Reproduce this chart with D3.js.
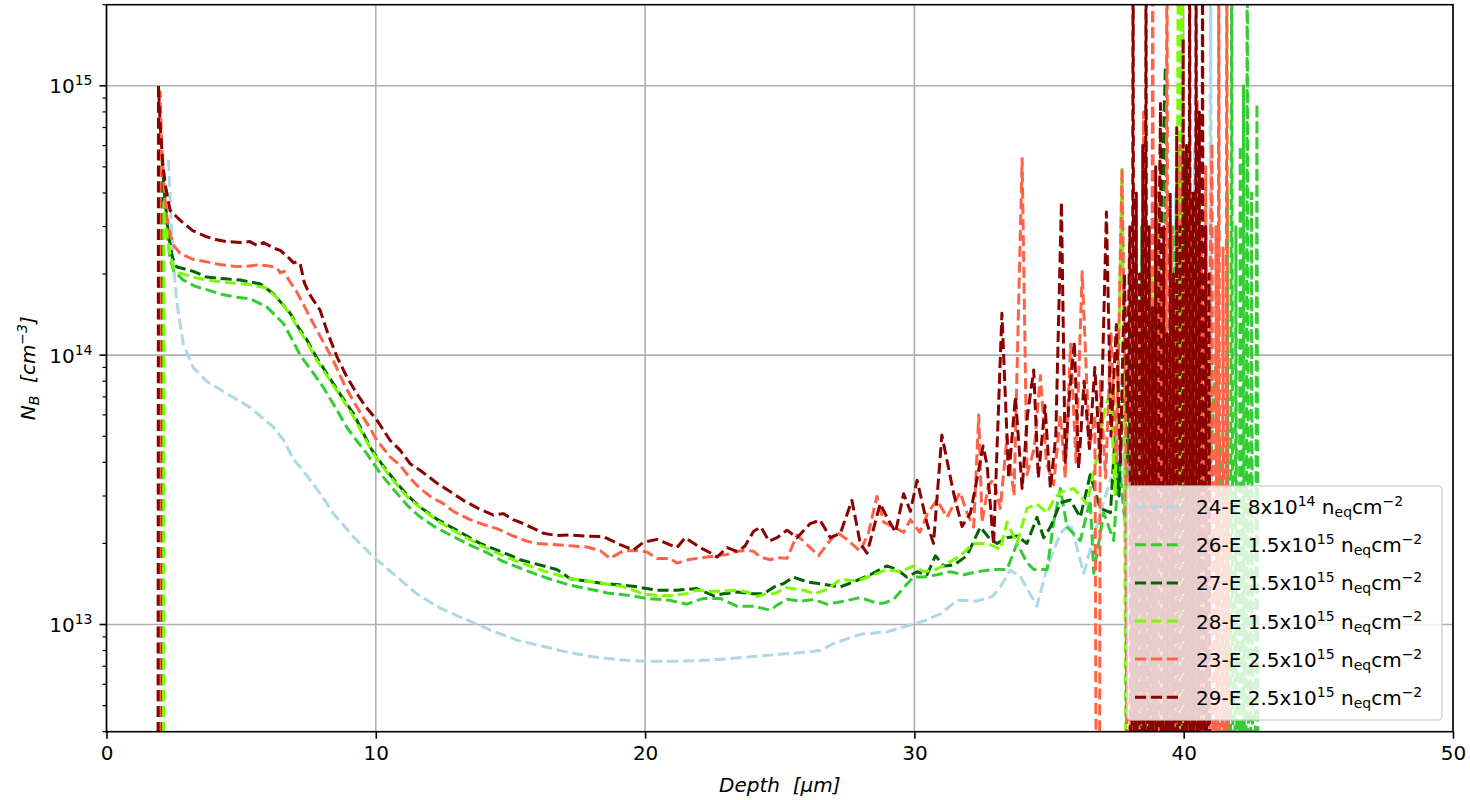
<!DOCTYPE html>
<html><head><meta charset="utf-8">
<script src="https://cdn.jsdelivr.net/npm/d3@7"></script>
<style>
body{margin:0;background:#fff;}
text{font-family:"DejaVu Sans",sans-serif;fill:#000;}
</style>
</head><body>
<svg id="chart" width="1470" height="800"></svg>
<script>
// ---------- data ----------
const xTicks = [0, 10, 20, 30, 40, 50];
const yTickExponents = [13, 14, 15];
const seriesIds = ["24-E", "26-E", "27-E", "28-E", "23-E", "29-E"];
const fluenceMantissa = ["8", "1.5", "1.5", "1.5", "2.5", "2.5"];
const fluenceExponent = ["14", "15", "15", "15", "15", "15"];

// [depth µm, N_B cm^-3]; 1e10 = below the axis (non-positive in source), 5e15 = above the axis
const nb24E = [[2.3,5.3e14],[2.4,3.2e14],[2.48,2.25e14],[2.6,1.6e14],[2.85,1.1e14],[3.22,9.0e13],[3.72,8.0e13],[4.47,7.2e13],[5.33,6.4e13],[6.2,5.4e13],[6.6,4.8e13],[6.94,4.1e13],[7.19,3.85e13],[7.6,3.4e13],[8.0,3.0e13],[8.43,2.58e13],[9.2,2.1e13],[9.97,1.76e13],[10.8,1.5e13],[11.52,1.3e13],[12.4,1.15e13],[13.38,1.04e13],[14.3,9.5e12],[15.24,8.75e12],[16.2,8.3e12],[17.1,7.9e12],[18.0,7.6e12],[19.0,7.4e12],[20.0,7.3e12],[21.0,7.3e12],[22.0,7.35e12],[23.0,7.45e12],[24.0,7.6e12],[25.0,7.75e12],[26.0,7.9e12],[26.5,8.0e12],[27.0,8.5e12],[28.0,9.2e12],[29.0,9.4e12],[29.6,9.8e12],[30.47,1.04e13],[31.0,1.1e13],[31.58,1.23e13],[32.3,1.22e13],[32.9,1.27e13],[33.19,1.38e13],[33.56,1.59e13],[33.93,1.51e13],[34.55,1.17e13],[34.93,1.63e13],[35.42,2.18e13],[35.79,2.37e13],[36.29,1.55e13],[36.9,2.58e13],[37.3,3.5e13],[37.52,3.1e13],[37.7,5.0e13],[37.85,2.5e13],[38.0,8.0e13],[38.2,1e10],[38.35,2.0e14],[38.5,1e10],[38.7,1.5e14],[38.85,1e10],[39.0,3.0e14],[39.15,1e10],[39.35,2.0e14],[39.5,1e10],[39.7,4.0e14],[39.85,1e10],[40.05,3.0e14],[40.2,1e10],[40.4,6.0e14],[40.55,1e10],[40.75,2.0e14],[40.9,1e10],[41.0,5e15],[41.1,1e10]];

const nb26E = [[2.08,1e10],[2.11,4.2e14],[2.2,3.2e14],[2.35,2.3e14],[2.5,2.05e14],[2.85,1.9e14],[3.3,1.8e14],[3.72,1.75e14],[4.3,1.68e14],[4.84,1.64e14],[5.33,1.62e14],[5.95,1.51e14],[6.57,1.31e14],[6.9,1.14e14],[7.19,1.0e14],[7.6,8.8e13],[8.05,7.6e13],[8.5,6.4e13],[8.92,5.4e13],[9.3,4.8e13],[9.67,4.3e13],[10.2,3.6e13],[10.78,3.07e13],[11.2,2.75e13],[11.64,2.51e13],[12.2,2.3e13],[12.88,2.12e13],[13.5,1.97e13],[14.12,1.85e13],[14.7,1.72e13],[15.36,1.62e13],[16.0,1.53e13],[16.6,1.46e13],[17.2,1.4e13],[17.84,1.36e13],[18.6,1.31e13],[19.45,1.28e13],[20.07,1.25e13],[20.9,1.23e13],[21.55,1.19e13],[22.17,1.25e13],[22.79,1.25e13],[23.41,1.17e13],[24.03,1.17e13],[24.65,1.13e13],[24.9,1.18e13],[25.27,1.24e13],[25.76,1.22e13],[26.26,1.24e13],[26.75,1.19e13],[27.37,1.22e13],[27.99,1.26e13],[28.61,1.2e13],[28.86,1.2e13],[29.23,1.24e13],[29.6,1.37e13],[29.97,1.5e13],[30.34,1.5e13],[30.84,1.53e13],[31.33,1.57e13],[31.83,1.53e13],[32.32,1.57e13],[32.94,1.6e13],[33.44,1.6e13],[33.81,2.0e13],[34.18,1.7e13],[34.43,1.6e13],[34.93,1.6e13],[35.17,2.4e13],[35.42,3.2e13],[35.67,2.3e13],[36.16,2.05e13],[36.53,2.9e13],[36.66,1.55e13],[37.03,2.6e13],[37.4,2.05e13],[37.6,4.0e13],[37.8,2.5e13],[38.0,6.0e13],[38.2,3.0e13],[38.4,1.0e14],[38.6,4.0e13],[38.8,1.5e14],[39.0,5.0e13],[39.2,2.0e14],[39.4,6.0e13],[39.6,3.0e14],[39.8,8.0e13],[40.0,2.0e14],[40.2,5.0e13],[40.4,3.0e14],[40.6,6.0e13],[40.8,1.5e14],[41.0,4.0e13],[41.2,1.0e14],[41.4,3.0e13],[41.55,1e10],[41.62,4.0e14],[41.7,1e10],[41.78,5e15],[41.86,1e10],[41.94,3.0e14],[42.02,1e10],[42.1,6.0e14],[42.18,1e10],[42.22,1.0e15],[42.28,1e10],[42.36,5e15],[42.44,1e10],[42.52,4.0e14],[42.6,1e10],[42.72,8.6e14],[42.8,1e10]];

const nb27E = [[2.03,1e10],[2.06,5.4e14],[2.15,4.0e14],[2.3,2.8e14],[2.45,2.3e14],[2.6,2.13e14],[3.2,2.05e14],[3.72,1.95e14],[4.4,1.92e14],[4.96,1.9e14],[5.7,1.84e14],[6.2,1.69e14],[6.5,1.56e14],[6.82,1.43e14],[7.1,1.28e14],[7.44,1.14e14],[7.8,9.8e13],[8.18,8.55e13],[8.7,7.1e13],[9.17,6.07e13],[9.85,4.45e13],[10.3,3.85e13],[10.78,3.35e13],[11.2,3.0e13],[11.64,2.73e13],[12.3,2.45e13],[13.0,2.24e13],[13.87,2.0e13],[14.74,1.85e13],[15.36,1.74e13],[16.23,1.65e13],[16.72,1.6e13],[17.22,1.48e13],[17.8,1.45e13],[18.45,1.42e13],[19.2,1.4e13],[19.7,1.38e13],[20.44,1.34e13],[21.18,1.34e13],[21.92,1.36e13],[22.54,1.28e13],[22.91,1.3e13],[23.41,1.32e13],[24.0,1.3e13],[24.4,1.3e13],[24.8,1.38e13],[25.15,1.42e13],[25.5,1.5e13],[26.01,1.44e13],[26.63,1.41e13],[27.25,1.38e13],[27.74,1.44e13],[28.36,1.53e13],[28.98,1.65e13],[29.35,1.6e13],[29.72,1.5e13],[30.1,1.57e13],[30.47,1.53e13],[30.78,1.8e13],[31.09,1.65e13],[31.46,1.66e13],[31.95,1.8e13],[32.45,2.3e13],[32.82,2.07e13],[33.07,2.0e13],[33.44,2.1e13],[33.81,2.13e13],[34.18,2.0e13],[34.55,2.5e13],[34.8,2.1e13],[35.05,2.3e13],[35.42,2.83e13],[35.79,2.9e13],[36.16,2.5e13],[36.53,3.6e13],[36.9,2.7e13],[37.28,2.6e13],[37.45,5.0e13],[37.6,3.0e13],[37.75,8.0e13],[37.9,4.0e13],[38.0,1.5e14],[38.1,1e10],[38.2,2.0e14],[38.3,1e10],[38.45,3.0e14],[38.55,1e10],[38.7,1.0e14],[38.8,1e10],[38.95,2.5e14],[39.05,1e10],[39.2,4.0e14],[39.32,1.18e15],[39.4,1e10],[39.55,2.0e14],[39.65,1e10],[39.8,3.0e14],[39.9,1e10],[40.0,5.3e14],[40.1,1e10],[40.2,2.0e14],[40.3,1e10]];

const nb28E = [[2.1,1e10],[2.13,3.7e14],[2.2,3.0e14],[2.35,2.4e14],[2.5,2.1e14],[2.7,2.02e14],[3.2,1.95e14],[3.72,1.9e14],[4.5,1.86e14],[5.3,1.83e14],[5.9,1.78e14],[6.3,1.65e14],[6.82,1.42e14],[7.1,1.26e14],[7.44,1.12e14],[7.8,9.6e13],[8.18,8.4e13],[8.7,7.0e13],[9.17,5.9e13],[9.85,4.4e13],[10.3,3.8e13],[10.78,3.3e13],[11.2,2.95e13],[11.64,2.72e13],[12.3,2.42e13],[13.0,2.2e13],[13.87,1.97e13],[14.74,1.8e13],[15.36,1.7e13],[16.23,1.58e13],[17.22,1.48e13],[17.8,1.45e13],[18.45,1.42e13],[19.2,1.38e13],[19.94,1.3e13],[20.5,1.28e13],[20.93,1.28e13],[21.5,1.3e13],[21.92,1.34e13],[22.4,1.33e13],[22.9,1.33e13],[23.41,1.34e13],[23.8,1.32e13],[24.15,1.27e13],[24.5,1.3e13],[24.77,1.3e13],[25.27,1.37e13],[25.89,1.34e13],[26.3,1.3e13],[26.75,1.35e13],[27.25,1.47e13],[27.87,1.45e13],[28.49,1.53e13],[28.98,1.6e13],[29.48,1.57e13],[29.97,1.65e13],[30.34,1.57e13],[30.8,1.6e13],[31.21,1.68e13],[31.7,1.8e13],[32.2,2.0e13],[32.7,2.0e13],[33.19,1.9e13],[33.44,2.4e13],[33.81,2.0e13],[34.18,2.7e13],[34.55,2.8e13],[34.93,2.6e13],[35.17,2.9e13],[35.42,3.1e13],[35.92,3.2e13],[36.41,2.8e13],[36.78,4.2e13],[37.03,6.0e13],[37.28,7.5e13],[37.45,3.0e13],[37.6,1.2e14],[37.71,4.9e14],[37.8,5.0e13],[37.95,1e10],[38.05,2.0e14],[38.15,1e10],[38.3,1.5e14],[38.4,1e10],[38.55,3.0e14],[38.65,1e10],[38.8,2.0e14],[38.9,1e10],[39.05,4.0e14],[39.15,1e10],[39.3,2.5e14],[39.4,1e10],[39.55,1.5e14],[39.65,1e10],[39.8,5e15],[39.87,1e10],[39.92,5e15],[40.0,1e10],[40.1,3.0e14],[40.2,1e10]];

const nb23E = [[1.96,1e10],[1.99,9.5e14],[2.05,6.0e14],[2.15,4.0e14],[2.25,3.2e14],[2.36,2.83e14],[2.5,2.55e14],[2.73,2.39e14],[3.2,2.27e14],[3.72,2.22e14],[4.2,2.17e14],[4.71,2.14e14],[5.1,2.13e14],[5.58,2.16e14],[5.9,2.15e14],[6.2,2.13e14],[6.35,2.1e14],[6.45,2.02e14],[6.6,2.05e14],[6.8,1.88e14],[7.06,1.72e14],[7.3,1.55e14],[7.68,1.31e14],[8.05,1.12e14],[8.43,9.5e13],[8.85,7.7e13],[9.29,6.43e13],[9.79,5.35e13],[10.04,4.83e13],[10.53,4.19e13],[10.9,3.9e13],[11.27,3.5e13],[11.64,3.2e13],[12.1,2.95e13],[12.51,2.81e13],[12.88,2.63e13],[13.5,2.45e13],[14.0,2.35e13],[14.5,2.27e13],[15.0,2.15e13],[15.6,2.04e13],[15.98,2.0e13],[16.6,1.98e13],[17.2,1.96e13],[17.84,1.94e13],[18.33,1.88e13],[18.7,1.76e13],[19.2,1.88e13],[19.7,1.88e13],[20.07,1.86e13],[20.44,1.76e13],[20.93,1.76e13],[21.18,1.69e13],[21.6,1.74e13],[21.92,1.76e13],[22.3,1.78e13],[22.67,1.8e13],[23.04,1.82e13],[23.41,1.87e13],[23.78,1.88e13],[24.03,1.87e13],[24.28,1.78e13],[24.65,1.74e13],[24.9,1.77e13],[25.27,1.76e13],[25.64,2.15e13],[26.01,1.98e13],[26.44,1.8e13],[26.75,1.98e13],[27.12,2.2e13],[27.5,2.07e13],[27.99,1.87e13],[28.3,2.2e13],[28.61,2.99e13],[28.86,2.4e13],[29.23,2.3e13],[29.6,2.2e13],[29.85,2.45e13],[30.2,2.2e13],[30.5,2.6e13],[30.84,2.9e13],[31.21,2.5e13],[31.7,3.1e13],[31.95,2.6e13],[32.2,2.3e13],[32.39,6.0e13],[32.51,2.4e13],[32.75,3.3e13],[32.94,3.45e13],[33.19,2.7e13],[33.44,5.0e13],[33.7,3.0e13],[34.0,5.37e14],[34.18,3.6e13],[34.45,4.5e13],[34.68,8.4e13],[34.9,4.0e13],[35.17,3.3e13],[35.42,6.0e13],[35.6,3.5e13],[35.8,1.1e14],[36.0,4.0e13],[36.23,2.04e14],[36.5,4.5e13],[36.7,6.0e13],[36.84,1e10],[36.9,8.0e13],[37.1,3.5e13],[37.3,1.2e14],[37.5,4.0e13],[37.71,4.93e14],[37.85,5.0e13],[37.95,1e10],[38.03,2.0e14],[38.11,1e10],[38.19,3.0e14],[38.27,1e10],[38.35,1.5e14],[38.43,1e10],[38.51,8.0e14],[38.59,1e10],[38.67,2.5e14],[38.75,1e10],[38.85,5e15],[38.93,1e10],[39.01,4.0e14],[39.09,1e10],[39.17,2.0e14],[39.25,1e10],[39.38,5e15],[39.46,1e10],[39.54,3.0e14],[39.62,1e10],[39.7,1.0e14],[39.78,1e10],[39.86,6.0e14],[39.94,1e10],[40.02,2.5e14],[40.1,1e10],[40.18,4.0e14],[40.26,1e10],[40.34,2.0e14],[40.42,1e10],[40.5,9.0e14],[40.58,1e10],[40.66,3.0e14],[40.74,1e10],[40.82,5.0e14],[40.9,1e10],[40.98,2.0e14],[41.05,6.1e14],[41.12,1e10],[41.2,3.0e14],[41.26,1e10],[41.3,5e15],[41.38,1e10],[41.46,2.5e14],[41.54,1e10],[41.6,5e15],[41.68,1e10]];

const nb29E = [[1.9,1e10],[1.93,1.0e15],[2.0,7.0e14],[2.1,5.0e14],[2.2,4.2e14],[2.36,3.45e14],[2.73,3.17e14],[3.2,2.9e14],[3.72,2.75e14],[4.1,2.68e14],[4.47,2.64e14],[4.96,2.62e14],[5.33,2.64e14],[5.6,2.55e14],[5.83,2.62e14],[6.2,2.5e14],[6.45,2.45e14],[6.57,2.39e14],[6.8,2.28e14],[6.95,2.2e14],[7.06,2.22e14],[7.19,2.19e14],[7.35,1.85e14],[7.55,1.68e14],[7.68,1.6e14],[7.93,1.47e14],[8.2,1.22e14],[8.55,9.9e13],[8.9,8.4e13],[9.29,7.2e13],[9.65,6.4e13],[10.04,5.74e13],[10.53,4.83e13],[10.9,4.44e13],[11.27,3.96e13],[11.64,3.74e13],[12.27,3.35e13],[12.8,3.1e13],[13.25,2.89e13],[13.8,2.7e13],[14.37,2.55e13],[14.74,2.58e13],[15.1,2.45e13],[15.48,2.37e13],[16.23,2.18e13],[16.7,2.14e13],[17.22,2.15e13],[17.8,2.13e13],[18.45,2.12e13],[19.07,1.98e13],[19.57,1.89e13],[19.94,2.02e13],[20.44,2.07e13],[20.8,2.0e13],[21.18,1.93e13],[21.49,2.1e13],[22.05,1.93e13],[22.4,1.85e13],[22.67,1.78e13],[23.04,1.93e13],[23.41,1.87e13],[23.7,1.95e13],[24.03,2.22e13],[24.3,2.3e13],[24.6,2.04e13],[24.9,2.1e13],[25.27,2.24e13],[25.64,2.1e13],[26.13,2.37e13],[26.5,2.44e13],[26.88,2.1e13],[27.25,2.18e13],[27.68,2.89e13],[27.99,2.0e13],[28.24,1.84e13],[28.73,2.81e13],[28.98,2.5e13],[29.3,2.2e13],[29.6,3.06e13],[29.85,2.63e13],[30.1,3.43e13],[30.47,2.37e13],[30.71,2.0e13],[31.02,5.05e13],[31.46,3.06e13],[31.77,2.31e13],[32.08,2.59e13],[32.4,3.8e13],[32.55,4.6e13],[32.7,3.9e13],[32.94,1.98e13],[33.25,1.43e14],[33.5,3.5e13],[33.75,7.0e13],[34.0,3.2e13],[34.2,6.0e13],[34.43,8.8e13],[34.6,3.5e13],[34.85,6.5e13],[35.05,3.2e13],[35.25,5.0e13],[35.46,3.7e14],[35.6,4.0e13],[35.75,7.0e13],[35.94,1.12e14],[36.1,3.8e13],[36.3,8.0e13],[36.5,4.5e13],[36.7,9.0e13],[36.9,4.0e13],[37.13,3.4e14],[37.3,5.0e13],[37.5,1.3e14],[37.65,4.0e13],[37.8,2.0e14],[37.9,6.0e13],[38.0,3.0e14],[38.06,1e10],[38.12,5e15],[38.18,1e10],[38.24,4.0e14],[38.3,1e10],[38.36,2.0e14],[38.42,1e10],[38.48,6.0e14],[38.54,1e10],[38.6,5e15],[38.66,1e10],[38.72,3.0e14],[38.78,1e10],[38.84,1.5e14],[38.9,1e10],[38.96,5.0e14],[39.02,1e10],[39.08,2.5e14],[39.14,8.6e14],[39.2,1e10],[39.26,3.0e14],[39.32,1e10],[39.38,1.2e14],[39.44,1e10],[39.5,4.0e14],[39.56,1e10],[39.62,2.0e14],[39.68,1e10],[39.74,7.0e14],[39.8,1e10],[39.86,3.0e14],[39.92,1e10],[39.98,1.5e15],[40.04,1e10],[40.1,6.0e14],[40.16,1e10],[40.22,5e15],[40.28,1e10],[40.34,4.0e14],[40.4,1e10],[40.46,5e15],[40.52,1e10],[40.58,8.0e14],[40.64,1e10],[40.7,5e15],[40.76,1e10],[40.82,3.0e14],[40.88,1e10],[40.94,2.0e14],[41.0,1e10]];

const seriesData = [nb24E, nb26E, nb27E, nb28E, nb23E, nb29E];
const seriesColors = ["#add8e6", "#32cd32", "#006400", "#7cfc00", "#ff6347", "#8b0000"];

// ---------- layout ----------
const L = 106.5, R = 1453, T = 4.7, B = 731.7;
const svg = d3.select("#chart");
const x = d3.scaleLinear().domain([0, 50]).range([L, R]);
const y = d3.scaleLog().domain([4e12, 2e15]).range([B, T]);

svg.append("rect").attr("width", 1470).attr("height", 800).attr("fill", "#fff");

svg.append("defs").append("clipPath").attr("id", "plotclip")
  .append("rect").attr("x", L).attr("y", T).attr("width", R - L).attr("height", B - T);

// grid
const grid = svg.append("g").attr("stroke", "#b0b0b0").attr("stroke-width", 1.6);
xTicks.forEach(t => grid.append("line").attr("x1", x(t)).attr("x2", x(t)).attr("y1", T).attr("y2", B));
yTickExponents.forEach(e => grid.append("line").attr("x1", L).attr("x2", R).attr("y1", y(Math.pow(10, e))).attr("y2", y(Math.pow(10, e))));

// series
const line = d3.line().x(d => x(d[0])).y(d => y(d[1]));
const plot = svg.append("g").attr("clip-path", "url(#plotclip)");
seriesData.forEach((data, i) => {
  plot.append("path").datum(data)
    .attr("d", line)
    .attr("fill", "none")
    .attr("stroke", seriesColors[i])
    .attr("stroke-width", 3)
    .attr("stroke-dasharray", "11.1,4.8")
    .attr("stroke-linejoin", "round");
});

// axes
const xAxis = d3.axisBottom(x).tickValues(xTicks).tickSize(7).tickPadding(7).tickFormat(d3.format("d"));
const gx = svg.append("g").attr("transform", `translate(0,${B})`).call(xAxis);
gx.select(".domain").remove();
gx.selectAll("line").attr("stroke", "#000").attr("stroke-width", 1.6);
gx.selectAll("text").attr("font-size", 20).attr("font-family", "DejaVu Sans").attr("dy", "0.71em");

const minorVals = [];
for (let e = 12; e <= 15; e++) for (let m = 2; m <= 9; m++) {
  const v = m * Math.pow(10, e);
  if (v >= 4e12 && v <= 2e15) minorVals.push(v);
}
const gy = svg.append("g");
minorVals.forEach(v => gy.append("line").attr("x1", L - 4).attr("x2", L).attr("y1", y(v)).attr("y2", y(v)).attr("stroke", "#000").attr("stroke-width", 1.2));
yTickExponents.forEach(e => {
  const yy = y(Math.pow(10, e));
  gy.append("line").attr("x1", L - 7).attr("x2", L).attr("y1", yy).attr("y2", yy).attr("stroke", "#000").attr("stroke-width", 1.6);
  const t = gy.append("text").attr("x", L - 14).attr("y", yy + 7.5).attr("text-anchor", "end").attr("font-size", 20);
  t.append("tspan").text("10");
  t.append("tspan").attr("font-size", 14).attr("dy", -8).text(String(e));
});

// spines
svg.append("rect").attr("x", L).attr("y", T).attr("width", R - L).attr("height", B - T)
  .attr("fill", "none").attr("stroke", "#000").attr("stroke-width", 1.6);

// axis labels
const xl = svg.append("text").attr("x", (L + R) / 2).attr("y", 792).attr("text-anchor", "middle")
  .attr("font-size", 20).attr("font-style", "italic").style("white-space", "pre");
xl.text("Depth  [μm]");

const yl = svg.append("text").attr("transform", `translate(35,${(T + B) / 2}) rotate(-90)`)
  .attr("text-anchor", "middle").attr("font-size", 20).attr("font-style", "italic").style("white-space", "pre");
yl.append("tspan").text("N");
yl.append("tspan").attr("font-size", 14).attr("dy", 4).text("B");
yl.append("tspan").attr("dy", -4).text("  [cm");
yl.append("tspan").attr("font-size", 14).attr("dy", -8).text("−3");
yl.append("tspan").attr("dy", 8).text("]");

// legend
const lg = svg.append("g");
lg.append("rect").attr("x", 1127).attr("y", 486).attr("width", 315).attr("height", 234).attr("rx", 4)
  .attr("fill", "#fff").attr("fill-opacity", 0.8).attr("stroke", "#cccccc").attr("stroke-opacity", 0.8).attr("stroke-width", 1.6);
seriesIds.forEach((id, i) => {
  const cy = 506.7 + i * 38.1;
  lg.append("line").attr("x1", 1135).attr("x2", 1178).attr("y1", cy).attr("y2", cy)
    .attr("stroke", seriesColors[i]).attr("stroke-width", 3).attr("stroke-dasharray", "11.1,4.8");
  const t = lg.append("text").attr("x", 1196).attr("y", cy + 7.5).attr("font-size", 20).style("white-space", "pre");
  t.append("tspan").text(`${id} ${fluenceMantissa[i]}x10`);
  t.append("tspan").attr("font-size", 14).attr("dy", -8).text(fluenceExponent[i]);
  t.append("tspan").attr("dy", 8).text(" n");
  t.append("tspan").attr("font-size", 14).attr("dy", 3).text("eq");
  t.append("tspan").attr("dy", -3).text("cm");
  t.append("tspan").attr("font-size", 14).attr("dy", -8).text("−2");
});
</script>
</body></html>
